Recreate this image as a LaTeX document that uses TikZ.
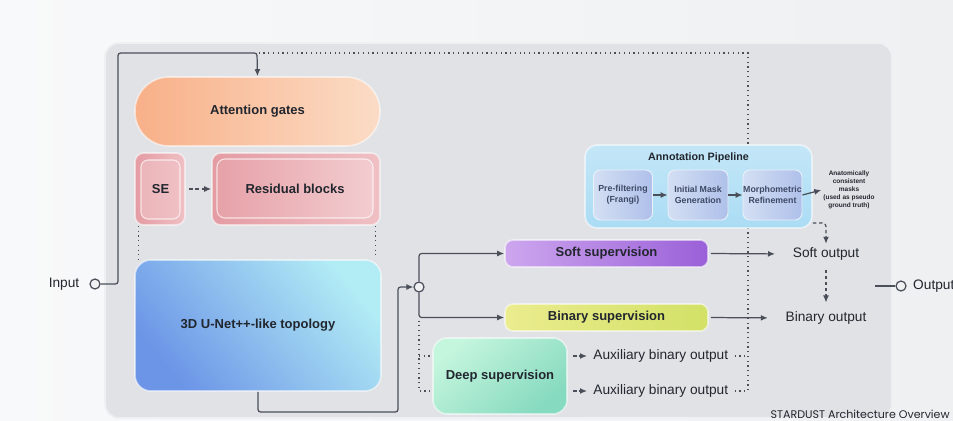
\documentclass[tikz,border=0pt]{standalone}
\usepackage{fontspec}
\setmainfont{Liberation Sans}
\newfontfamily\capfont{Poppins}
\usetikzlibrary{arrows.meta}
\newdimen\pxl \pxl=0.02cm
\definecolor{ink}{HTML}{22262E}
\definecolor{wirec}{HTML}{4A4F59}
\definecolor{page}{HTML}{EEF0F2}
\definecolor{panel}{HTML}{E0E2E6}
\definecolor{attnL}{HTML}{F8B088}
\definecolor{attnR}{HTML}{FBDCC6}
\definecolor{pinkL}{HTML}{E49CA3}
\definecolor{pinkR}{HTML}{EFC0C4}
\definecolor{unetL}{HTML}{6C95E7}
\definecolor{unetR}{HTML}{B2ECF5}
\definecolor{softL}{HTML}{CDA6EE}
\definecolor{softR}{HTML}{9A60D8}
\definecolor{binL}{HTML}{EBEC8E}
\definecolor{binR}{HTML}{D2E166}
\definecolor{deepL}{HTML}{C4F5DD}
\definecolor{deepR}{HTML}{86DABF}
\definecolor{pipec}{HTML}{AADCF4}
\definecolor{subL}{HTML}{D3DFF3}
\definecolor{subR}{HTML}{AFC0EA}
\definecolor{subink}{HTML}{3E4966}

\begin{document}
\begin{tikzpicture}[x=0.02cm, y=-0.02cm, >={Latex[length=1.4mm,width=1.2mm]},
	every node/.style={font=\fontsize{7.8}{9.4}\selectfont, text=ink},
	box/.style={rounded corners=9\pxl, inner sep=0pt, align=center, font=\bfseries\fontsize{7.4}{9}\selectfont,
		draw=white, draw opacity=0.55, line width=0.9pt},
	subbox/.style={rounded corners=7\pxl, inner sep=0pt, align=center, draw=white!55!subL, line width=0.5pt,
		left color=subL, right color=subR, text=subink, font=\bfseries\fontsize{5}{6}\selectfont,
		minimum width=59\pxl, minimum height=50\pxl},
	port/.style={circle, draw=wirec, fill=page, line width=0.7pt, minimum size=10\pxl, inner sep=0pt},
	wire/.style={draw=wirec, line width=0.7pt, rounded corners=1.5pt},
	dotwire/.style={draw=wirec, line width=0.7pt, dotted},
	dashwire/.style={draw=wirec, line width=0.7pt, dash pattern=on 2pt off 1.5pt}]
	\useasboundingbox (0,0) rectangle (953,420);
	\fill[left color=white!60!page, right color=page] (0,0) rectangle (953,420);
	\draw[fill=panel, draw=white!50!panel, line width=1pt, rounded corners=14\pxl] (105,43) rectangle (892,418);

	\node[box, minimum width=245\pxl, minimum height=69\pxl, rounded corners=34\pxl, left color=attnL, right color=attnR] (attn) at (257.5,111.5) {Attention gates};
	\node[box, minimum width=50\pxl, minimum height=72\pxl, left color=pinkL, right color=pinkR] (se) at (160,189) {};
	\node[box, minimum width=39\pxl, minimum height=59\pxl, rounded corners=7\pxl, draw opacity=0.7, line width=0.6pt,
		left color=pinkR!70!pinkL, right color=pinkR] (selbl) at (160.5,189.5) {SE};
	\node[box, minimum width=168\pxl, minimum height=72\pxl, left color=pinkL, right color=pinkR] (res) at (296,189) {};
	\node[box, minimum width=156\pxl, minimum height=59\pxl, rounded corners=8\pxl, draw opacity=0.7, line width=0.6pt,
		left color=pinkL!85!pinkR, right color=pinkR!80!white] (reslbl) at (295,188.5) {Residual blocks};
	\node[box, minimum width=246\pxl, minimum height=131\pxl, rounded corners=16\pxl,
		top color=unetR, bottom color=unetL, shading angle=-50] (unet) at (258,325.5) {3D U-Net++-like topology};
	\node[port] (junc) at (419,287) {};
	\node[box, minimum width=203\pxl, minimum height=27\pxl, rounded corners=8\pxl, left color=softL, right color=softR] (soft) at (606.5,253.5) {Soft supervision};
	\node[box, minimum width=203\pxl, minimum height=27\pxl, rounded corners=8\pxl, left color=binL, right color=binR] (binary) at (606.5,317.5) {Binary supervision};
	\node[box, minimum width=134\pxl, minimum height=76\pxl, rounded corners=14\pxl,
		top color=deepL, bottom color=deepR, shading angle=40] (deep) at (500,376) {Deep supervision};

	\node[inner sep=2pt] (softout) at (826,254) {Soft output};
	\node[inner sep=2pt] (binout) at (826,318) {Binary output};
	\node[anchor=west, inner sep=6\pxl] (aux1) at (587,356) {Auxiliary binary output};
	\node[anchor=west, inner sep=6\pxl] (aux2) at (587,391) {Auxiliary binary output};

	\node[port] (inp) at (95,284) {};
	\node (inlbl) at (64,284) {Input};
	\node[port] (outp) at (901,286) {};
	\node[anchor=west] (outlbl) at (907,286) {Output};
	\coordinate (bend) at (118,53);
	\coordinate (gate) at (257,53);
	\coordinate (outstub) at (875,286);
	\node[anchor=base east, inner sep=0pt, font=\capfont\fontsize{6.3}{7}\selectfont] (cap) at (950,418) {STARDUST Architecture Overview};

	\draw[dotwire] (aux2.east) -| (748,53) -- (gate);
	\draw[dotwire] (aux1.east) -- (aux1.east -| 748,0);
	\draw[dotwire] ([xshift=4\pxl]se.south west) -- ([xshift=4\pxl]se.south west |- unet.north);
	\draw[dotwire, shorten >=4\pxl] ([xshift=-5\pxl]res.south east) -- ([xshift=-5\pxl]res.south east |- unet.north);

	\node[box, minimum width=227\pxl, minimum height=83\pxl, rounded corners=12\pxl, line width=1pt,
		top color=pipec!70!white, bottom color=pipec] (pipe) at (698.5,186.5) {};
	\node[font=\bfseries\fontsize{6.1}{7}\selectfont, inner sep=0pt] (pipetitle) at (698.5,158) {Annotation Pipeline};
	\node[subbox] (prefilt) at (623,195) {Pre-filtering\\(Frangi)};
	\node[subbox, minimum width=60\pxl] (initmask) at (698,195) {Initial Mask\\Generation};
	\node[subbox] (morph) at (772.5,195) {Morphometric\\Refinement};
	\node[align=center, inner sep=1pt, font=\bfseries\fontsize{3.7}{4.5}\selectfont] (masks) at (849,190)
		{Anatomically\\consistent\\masks\\(used as pseudo\\ground truth)};

	\draw[wire, ->] (inp.east) -| (bend) -- (gate) -- (attn.north);
	\draw[dashwire, ->, shorten <=2pt] (se.east) -- (res.west);
	\draw[wire, ->] (unet.south) |- (398,412) |- (junc.west);
	\draw[wire, ->] (junc.north) |- (soft.west);
	\draw[wire, ->] (junc.south) |- (binary.west);
	\draw[dotwire] ([yshift=-3\pxl]junc |- binary.west) -- (junc |- aux2) -- (deep.west |- aux2);
	\draw[dotwire] (junc |- aux1) -- (deep.west |- aux1);
	\draw[dashwire, ->, shorten <=3pt] (deep.east |- aux1) -- (aux1.west);
	\draw[dashwire, ->, shorten <=3pt] (deep.east |- aux2) -- (aux2.west);
	\draw[wire, ->, shorten <=2\pxl, shorten >=14\pxl] (soft.east) -- (softout.west);
	\draw[wire, ->, shorten <=2\pxl, shorten >=14\pxl] (binary.east) -- (binout.west);
	\draw[dashwire, ->, shorten <=3pt, shorten >=3pt] (softout.south) -- (binout.north);
	\draw[wire, ->] (prefilt) -- (initmask);
	\draw[wire, ->] (initmask) -- (morph);
	\draw[wire, ->] (morph.east) -- (masks.west);
	\draw[dashwire, ->, rounded corners=2pt] ([yshift=6\pxl]pipe.south east) -| (softout.north);
	\draw[wire] (outstub) -- (outp.west);
\end{tikzpicture}
\end{document}
